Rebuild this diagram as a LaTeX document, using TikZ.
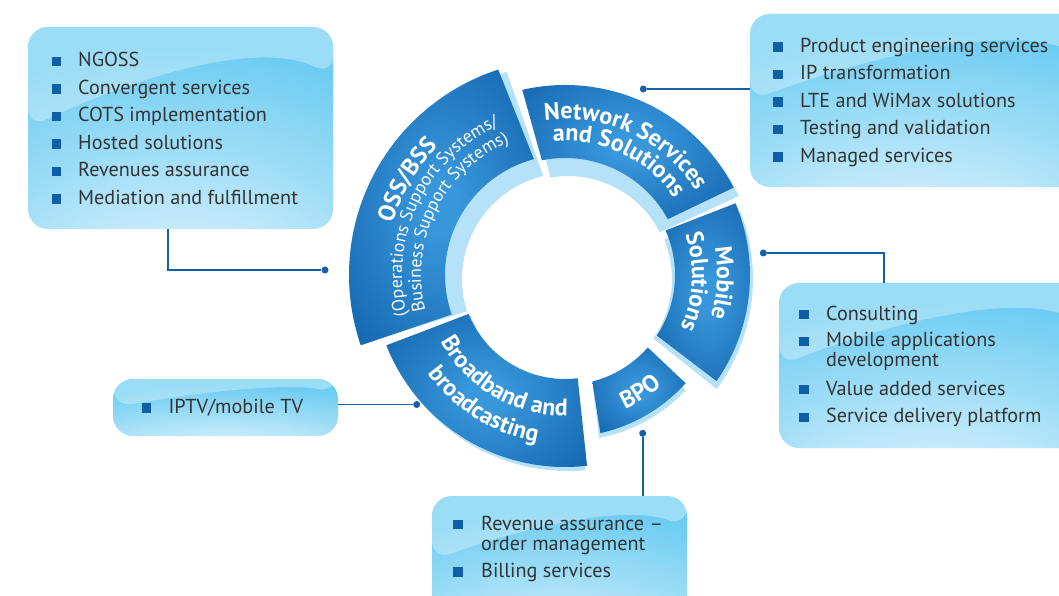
\documentclass[tikz,border=0pt]{standalone}
\usepackage{fontspec}
\setmainfont{PT Sans}
\usetikzlibrary{decorations.text,calc}
\definecolor{segdark}{HTML}{0A59A3}
\definecolor{seglight}{HTML}{3896DA}
\definecolor{segshadow}{HTML}{B5E2F8}
\definecolor{boxbase}{HTML}{6CCCF2}
\definecolor{boxlight}{HTML}{E0F4FC}
\definecolor{bulblue}{HTML}{0F5FA8}
\definecolor{txtgray}{HTML}{333333}
\definecolor{connblue}{HTML}{1660AA}
\pgfdeclareradialshading{boxshade}{\pgfpoint{0bp}{-48bp}}{color(0bp)=(boxlight); color(20bp)=(boxlight!70!boxbase); color(50bp)=(boxbase); color(130bp)=(boxbase)}
\pgfdeclareradialshading{segshade}{\pgfpoint{0bp}{0bp}}{color(0bp)=(seglight); color(5bp)=(seglight); color(42bp)=(segdark); color(90bp)=(segdark)}
\newcommand\ringfont{\fontsize{24}{24}\selectfont\bfseries}
\newcommand\subringfont{\fontsize{18}{18}\selectfont}
\newcommand\listfont{\fontsize{20.2}{22}\selectfont}
\newcommand\segp[6]{(#1:#6) arc[start angle=#1,end angle=#2,radius=#6] -- (#3:#5) arc[start angle=#3,end angle=#4,radius=#5] -- cycle}
\newcommand\bitem[5]{\node[bul] (#1b) at ({#2+4.75},{595-#4+5.3}) {};\node[itm] (#1t) at (#3,{595-#4}) {#5};}
\newcommand\citem[4]{\node[itm] (#1t) at (#2,{595-#3}) {#4};}
\begin{document}
\begin{tikzpicture}[x=1pt,y=1pt,
  gbox/.style={rounded corners=20pt, inner sep=0pt, shade, shading=boxshade,
    path picture={\fill[white,opacity=.32] let \p1=(path picture bounding box.north west), \p2=(path picture bounding box.south east) in
      (\x1,\y1) -- (\x2,\y1) -- (\x2,{\y1-0.24*(\y1-\y2)}) .. controls ({\x2-0.25*(\x2-\x1)},{\y1-0.06*(\y1-\y2)}) and ({\x1+0.35*(\x2-\x1)},{\y1-0.25*(\y1-\y2)}) .. (\x1,{\y1-0.5*(\y1-\y2)}) -- cycle;}},
  itm/.style={anchor=base west, inner sep=0pt, font=\listfont, text=txtgray},
  bul/.style={fill=bulblue, inner sep=0pt, minimum size=9.5pt, draw=none},
  conn/.style={draw=connblue, line width=1.8pt},
  dot/.style={circle, fill=connblue, inner sep=0pt, minimum size=7pt},
  segsh/.style={fill=segshadow},
  seg/.style={shade, shading=segshade},
  cwtext/.style={decorate, decoration={text along path, text align=center, text color=white, text={#1}}}
]
\useasboundingbox (0,0) rectangle (1059,595);
\clip (0,0) rectangle (1059,595);
\fill[white] (0,0) rectangle (1059,595);

% dots
\node[dot] (d1) at (325,325) {};
\node[dot] (d2) at (643.3,506) {};
\node[dot] (d3) at (763.3,342) {};
\node[dot] (d4) at (642.7,161.7) {};
\node[dot] (d5) at (416.7,190.5) {};

% boxes
\node[gbox, minimum width=305pt, minimum height=202pt] (box1) at (180.5,467) {};
\node[gbox, minimum width=335pt, minimum height=173pt] (box2) at (917.5,494.5) {};
\node[gbox, minimum width=306pt, minimum height=165pt] (box3) at (932,229.5) {};
\node[gbox, minimum width=255pt, minimum height=129pt] (box4) at (559.5,34.5) {};
\node[gbox, minimum width=225pt, minimum height=57pt] (box5) at (225.5,187.5) {};

% connectors
\draw[conn] ([xshift=-12.5pt]box1.south) |- (d1);
\draw[conn] (d2) -- (d2 -| box2.west);
\draw[conn] (d3) -| ([xshift=-48pt]box3.north);
\draw[conn] (d4) -- (d4 |- box4.north);
\draw[conn] (box5.east |- d5) -- (d5);

% lists
\bitem{a1}{51.7}{78}{66.7}{NGOSS}
\bitem{a2}{51.7}{78}{94.2}{Convergent services}
\bitem{a3}{51.7}{78}{121.7}{COTS implementation}
\bitem{a4}{51.7}{78}{149.2}{Hosted solutions}
\bitem{a5}{51.7}{78}{176.7}{Revenues assurance}
\bitem{a6}{51.7}{78}{204.2}{Mediation and fulfillment}

\bitem{b1}{773.3}{800}{52.3}{Product engineering services}
\bitem{b2}{773.3}{800}{79.8}{IP transformation}
\bitem{b3}{773.3}{800}{107.3}{LTE and WiMax solutions}
\bitem{b4}{773.3}{800}{134.8}{Testing and validation}
\bitem{b5}{773.3}{800}{162.3}{Managed services}

\bitem{c1}{799.3}{826}{320}{Consulting}
\bitem{c2}{799.3}{826}{346.7}{Mobile applications}
\citem{c3}{826}{366.7}{development}
\bitem{c4}{799.3}{826}{395}{Value added services}
\bitem{c5}{799.3}{826}{422.7}{Service delivery platform}

\bitem{e1}{453.3}{481}{530}{Revenue assurance \textendash}
\citem{e2}{481}{550}{order management}
\bitem{e3}{453.3}{481}{577.3}{Billing services}

\bitem{f1}{141.7}{168.3}{413.3}{IPTV/mobile TV}

% ring
\begin{scope}[shift={(565,320)}]
  \begin{scope}[shift={(3,-4)}, rotate=-1.5]
    \fill[segsh] \segp{108}{199}{199.2}{105}{106}{216};
    \fill[segsh] \segp{103}{27.4}{28.5}{101.4}{103}{190};
    \fill[segsh] \segp{22.8}{-35}{-33.4}{23.9}{104}{185};
    \fill[segsh] \segp{-41.9}{-77.4}{-75.6}{-41.2}{110}{162};
    \fill[segsh] \segp{-83.4}{-158.5}{-158}{-83}{104}{192};
  \end{scope}
  \path[seg] \segp{108}{199}{199.2}{105}{120}{216};
  \path[seg] \segp{103}{27.4}{28.5}{101.4}{117}{190};
  \path[seg] \segp{22.8}{-35}{-33.4}{23.9}{110}{185};
  \path[seg] \segp{-41.9}{-77.4}{-75.6}{-41.2}{110}{162};
  \path[seg] \segp{-83.4}{-158.5}{-158}{-83}{104}{192};

  % texts
  \path[cwtext={|\ringfont|Network Services}] (125:156) arc[start angle=125,end angle=5,radius=156];
  \path[cwtext={|\ringfont|and Solutions}] (125:134) arc[start angle=125,end angle=5,radius=134];
  \path[cwtext={|\ringfont|OSS/BSS}] (209:180) arc[start angle=209,end angle=89,radius=180];
  \path[cwtext={|\subringfont|(Operations Support Systems/}] (214:163) arc[start angle=214,end angle=94,radius=163];
  \path[cwtext={|\subringfont|Business Support Systems)}] (213.5:144) arc[start angle=213.5,end angle=93.5,radius=144];
  \path[cwtext={|\ringfont|Mobile}] (57:152) arc[start angle=57,end angle=-63,radius=152];
  \path[cwtext={|\ringfont|Solutions}] (57:127) arc[start angle=57,end angle=-63,radius=127];
  \path[cwtext={|\ringfont|BPO}] (-117.3:146.7) arc[start angle=-117.3,end angle=2.7,radius=146.7];
  \path[cwtext={|\ringfont|Broadband and}] (179.5:141) arc[start angle=179.5,end angle=299.5,radius=141];
  \path[cwtext={|\ringfont|broadcasting}] (178:169) arc[start angle=178,end angle=298,radius=169];
\end{scope}
\end{tikzpicture}
\end{document}
